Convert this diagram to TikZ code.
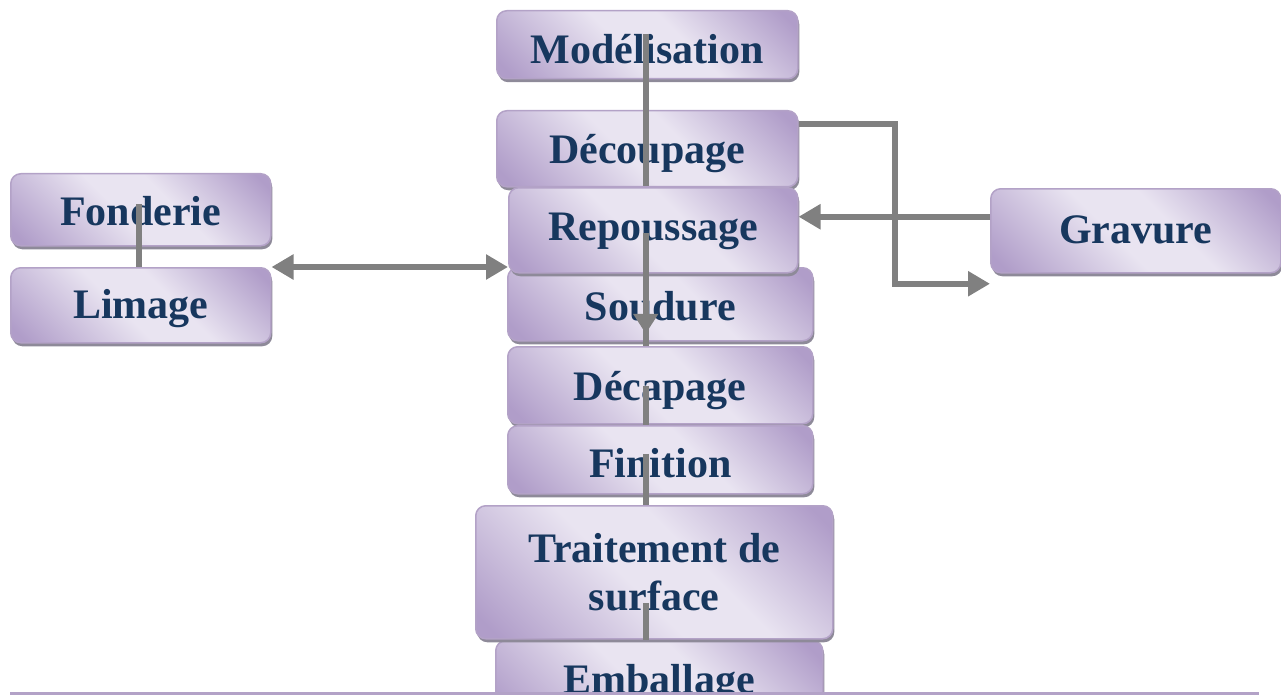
\documentclass[tikz,border=0pt]{standalone}
\usepackage{fontspec}
\setmainfont{Liberation Serif}
\usetikzlibrary{arrows.meta,shadows}
\definecolor{lavD}{HTML}{B09DC9}
\definecolor{lavL}{HTML}{E9E4F1}
\definecolor{lavB}{HTML}{B3A2C7}
\definecolor{txtblue}{HTML}{17375E}
\definecolor{conngray}{HTML}{808080}
\definecolor{shadowgray}{HTML}{8E8A99}
\pgfdeclarehorizontalshading{boxsh}{100bp}{color(0bp)=(lavD); color(18bp)=(lavD); color(45bp)=(lavL); color(58bp)=(lavL); color(82bp)=(lavD); color(100bp)=(lavD)}
\newcommand{\tx}[2]{\raisebox{-#1}[29pt][9pt]{#2}}
\tikzset{
  box/.style={draw=lavB, line width=1.5pt, rounded corners=10pt, shading=boxsh, shading angle=45,
    anchor=north west, inner sep=0pt, font=\bfseries\fontsize{42}{48}\selectfont, text=txtblue, align=center,
    drop shadow={shadow xshift=1.5pt, shadow yshift=-3.5pt, fill=shadowgray, opacity=1}},
  conn/.style={draw=conngray, line width=6pt},
  tip/.style={-{Triangle[length=22pt,width=24pt]}},
  tipb/.style={{Triangle[length=22pt,width=24pt]}-{Triangle[length=22pt,width=24pt]}}
}
\begin{document}
\begin{tikzpicture}[x=1pt,y=-1pt]
\useasboundingbox (0,0) rectangle (1281,695);
\begin{scope}
\clip (0,0) rectangle (1281,691);
\node[box, minimum width=301pt, minimum height=68pt] (mod) at (496,10) {\tx{9pt}{Modélisation}};
\node[box, minimum width=301pt, minimum height=76pt] (dec) at (496,110) {\tx{5pt}{Découpage}};
\node[box, minimum width=305pt, minimum height=73pt] (sou) at (507,267) {\tx{6.5pt}{Soudure}};
\node[box, minimum width=289pt, minimum height=85pt] (rep) at (508,187) {\tx{0pt}{Repoussage}};
\node[box, minimum width=305pt, minimum height=77pt] (decap) at (507,346) {\tx{5.5pt}{Décapage}};
\node[box, minimum width=305pt, minimum height=68pt] (fin) at (507,425) {\tx{8pt}{Finition}};
\node[box, minimum width=327pt, minimum height=80pt] (emb) at (495,640) {\tx{3pt}{Emballage}};
\node[box, minimum width=357pt, minimum height=133pt] (trt) at (475,505) {\tx{4.5pt}{Traitement de}\\\tx{4.5pt}{surface}};
\node[box, minimum width=260pt, minimum height=72pt] (fon) at (10,173) {\tx{6pt}{Fonderie}};
\node[box, minimum width=260pt, minimum height=75pt] (lim) at (10,267) {\tx{3.5pt}{Limage}};
\node[box, minimum width=290pt, minimum height=84pt] (grav) at (990,188) {\tx{3pt}{Gravure}};

\draw[conn] ([xshift=-1.5pt,yshift=11pt]mod.center) -- ([xshift=-1.5pt,yshift=-37pt]dec.center);
\draw[conn] ([xshift=-7.5pt,yshift=-2.5pt]rep.center) -- ([xshift=-14.5pt,yshift=-41.5pt]sou.center);
\draw[conn,-{Triangle[length=20pt,width=24pt]}] ([xshift=-7.5pt,yshift=-2.5pt]rep.center) -- ([xshift=-14.5pt,yshift=-29.5pt]sou.center);
\draw[conn] ([xshift=-14.5pt,yshift=-0.5pt]decap.center) -- ([xshift=-14.5pt]fin.north);
\draw[conn] ([xshift=-14.5pt,yshift=6pt]fin.center) -- ([xshift=-8.5pt]trt.north);
\draw[conn] ([xshift=-8.5pt,yshift=-30.5pt]trt.center) -- ([xshift=-13.5pt]emb.north);
\draw[conn] ([xshift=-2pt,yshift=6pt]fon.center) -- ([xshift=-2pt]lim.north);
\draw[conn,tipb] (lim.north east) -- (rep.west |- lim.north east);
\draw[conn,tip] ([yshift=25pt]dec.east) -- ++(96,0) |- ([yshift=-53pt]grav.west);
\draw[conn,tip] ([yshift=14pt]grav.west) -- ([yshift=13.5pt]rep.east);
\end{scope}
\draw[lavB, line width=3pt] (10,693) -- (1259,693);
\end{tikzpicture}
\end{document}
